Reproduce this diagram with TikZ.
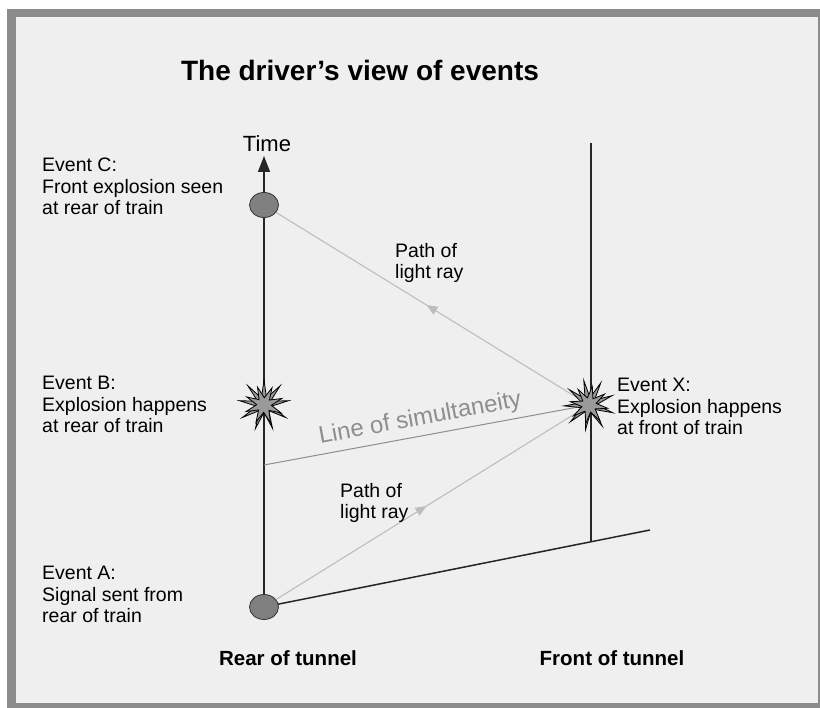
\documentclass[tikz,border=0pt]{standalone}
\usepackage{fontspec}
\setmainfont{Liberation Sans}
\usetikzlibrary{arrows.meta, positioning, shapes.geometric, decorations.markings, backgrounds}

\definecolor{panel}{HTML}{EFEFEF}
\definecolor{frame}{HTML}{8C8C8C}
\definecolor{raygray}{HTML}{BDBDBD}
\definecolor{simgray}{HTML}{8E8E8E}
\definecolor{dotgray}{HTML}{808080}
\definecolor{burstgray}{HTML}{9A9A9A}

\begin{document}
\begin{tikzpicture}[x=1pt, y=-1pt,
  lbl/.style={anchor=north west, align=left, inner sep=0pt,
              font=\fontsize{19.5}{21.5}\selectfont},
  event/.style={ellipse, draw=black!80, fill=dotgray, line width=0.8pt,
                minimum width=29pt, minimum height=25pt, inner sep=0pt},
  burst/.style={star, star points=9, star point ratio=3.4, draw=black,
                fill=burstgray, line width=0.8pt, minimum size=50pt, inner sep=0pt},
  smallburst/.style={burst, star points=8, star point ratio=2.6, minimum size=38pt},
  world/.style={line width=1.5pt, black!85},
  ray/.style={raygray, line width=1.1pt, postaction={decorate},
              decoration={markings, mark=at position 0.5 with
              {\arrow{Triangle[length=11pt, width=9pt]}}}},
  tunnel/.style={font=\bfseries\fontsize{20.5}{22}\selectfont},
]
  \useasboundingbox (0,0) rectangle (820,708);

  % events on the two world lines
  \node[event] (a) at (264,607) {};
  \node[event] (c) at (264,205) {};
  \node[burst] (b) at (264,405) {};
  \node[smallburst, rotate=20] (b2) at (b) {};
  \node[burst, rotate=12] (x) at (589,405) {};
  \node[smallburst, rotate=35] (x2) at (x) {};

  \coordinate (tip)      at (264,156);
  \coordinate (fronttop) at (591,143);
  \coordinate (frontbot) at (591,541);
  \coordinate (trainend) at (650,530);
  \coordinate (simstart) at (264,465);

  \node[font=\fontsize{22}{24}\selectfont, above=1pt of tip, xshift=3pt] (time) {Time};
  \node[font=\bfseries\fontsize{28}{30}\selectfont] (title) at (360,70)
       {The driver's view of events};

  \begin{scope}[on background layer]
    \fill[frame] (7,9) rectangle (820,708);
    \fill[panel] (16,17) rectangle (818,703);
    \draw[world, -{Triangle[length=16pt, width=12pt]}] (a.center) -- (tip);
    \draw[world] (fronttop) -- (frontbot);
    \draw[world] (a.center) -- (trainend);
    \draw[ray] (a.center) -- (x.center);
    \draw[ray] (x.center) -- (c.center);
    \draw[simgray, line width=1pt] (simstart) -- (x.center)
      node[pos=0.49, above=2pt, sloped, font=\fontsize{24}{26}\selectfont] (sim)
      {Line of simultaneity};
  \end{scope}

  % labels
  \node[lbl] (lc) at (42,158) {Event C:\\Front explosion seen\\at rear of train};
  \node[lbl] (lb) at (42,376) {Event B:\\Explosion happens\\at rear of train};
  \node[lbl] (la) at (42,566) {Event A:\\Signal sent from\\rear of train};
  \node[lbl] (lx) at (617,378) {Event X:\\Explosion happens\\at front of train};
  \node[lbl] (pu) at (395,243) {Path of\\light ray};
  \node[lbl] (pl) at (340,483) {Path of\\light ray};

  \node[tunnel] (rear)  at (288,658) {Rear of tunnel};
  \node[tunnel] (front) at (612,658) {Front of tunnel};
\end{tikzpicture}
\end{document}
